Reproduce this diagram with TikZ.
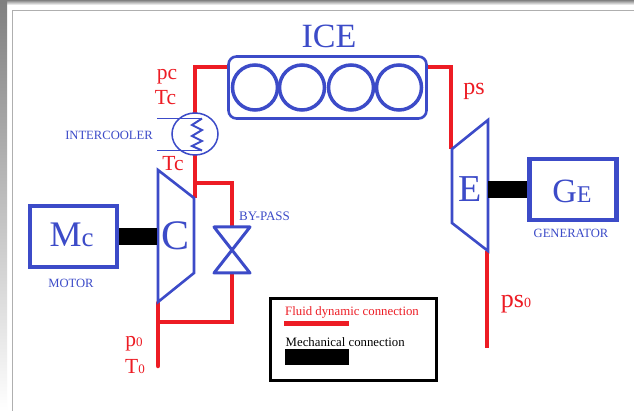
\documentclass[tikz,border=0pt]{standalone}
\usepackage{fontspec}
\setmainfont{Liberation Serif}
\usetikzlibrary{calc,shapes.geometric}
\definecolor{bl}{RGB}{60,75,200}
\definecolor{rd}{RGB}{237,28,36}
\definecolor{shade}{RGB}{236,236,236}
\definecolor{edge}{RGB}{175,175,175}
\tikzset{x=1pt,y=-1pt,
  unit/.style={draw=bl,line width=4.5pt,inner sep=0pt,text=bl,font=\fontsize{35}{35}\selectfont},
  cyl/.style={draw=bl,line width=3.5pt,circle,minimum size=45pt,inner sep=0pt},
  body/.style={draw=bl,line width=2.6pt,line join=miter},
  pipe/.style={draw=rd,line width=4.5pt,line join=miter},
  shaft/.style={draw=black,line width=17pt},
  lab/.style={inner sep=0pt,text=rd,font=\fontsize{21.5}{21.5}\selectfont},
  small/.style={inner sep=0pt,text=bl,font=\fontsize{12.6}{12.6}\selectfont},
  leg/.style={inner sep=0pt,anchor=west,font=\fontsize{12.8}{12.8}\selectfont}}
\newcommand{\sm}[1]{{\fontsize{13}{13}\selectfont #1}}
\begin{document}
\begin{tikzpicture}
\useasboundingbox (0,0) rectangle (634,411);
\fill[white] (0,0) rectangle (634,411);
\fill[shade] (0,0) rectangle (634,5);
\fill[shade] (0,0) rectangle (7,411);
\draw[edge,line width=1pt] (12.5,411) -- (12.5,10.5) -- (634,10.5);
% pipes
\coordinate (iceL) at (228,67);
\coordinate (iceR) at (427,67);
\coordinate (cTop) at (195,198);
\coordinate (cIn) at (158,303);
\coordinate (cEnd) at (158,366);
\coordinate (tee) at (158,322);
\coordinate (eIn) at (451,149);
\coordinate (eOut) at (487,251);
\coordinate (eEnd) at (487,348);
\coordinate (vT) at (232,227);
\coordinate (vB) at (232,273);
\coordinate (teeT) at (195,183);
\draw[pipe] (iceL) -| (cTop);
\draw[pipe] (teeT) -| (vT);
\draw[pipe] (vB) |- (tee);
\draw[pipe,line cap=round] (cIn) -- (cEnd);
\draw[pipe] (iceR) -| (eIn);
\draw[pipe] (eOut) -- (eEnd);
% ICE
\node[draw=bl,line width=2.6pt,rounded corners=8pt,minimum width=198pt,minimum height=62pt,inner sep=0pt] (ice) at (327.5,87.5) {};
\node[cyl] (c1) at (255,87.5) {};
\node[cyl] (c2) at (302,87.5) {};
\node[cyl] (c3) at (351,87.5) {};
\node[cyl] (c4) at (399,87.5) {};
\node[inner sep=0pt,text=bl,font=\fontsize{34}{34}\selectfont] (icel) at (329,36) {ICE};
% intercooler
\node[draw=bl,line width=1.5pt,ellipse,minimum width=46pt,minimum height=42pt,inner sep=0pt,fill=white] (ic) at (195,134) {};
\draw[bl,line width=1.3pt] (157,118.5) -- (202,118.5);
\draw[bl,line width=1.3pt] (157,150.5) -- (202,150.5);
\draw[bl,line width=2pt] (202,118.5) -- (192,125) -- (202,130) -- (192,136) -- (202,141) -- (192,146) -- (202,150.5);
\node[small] (icl) at (109,135) {INTERCOOLER};
% compressor
\draw[body,fill=white] (158,170) -- (194,198) -- (194,273) -- (158,302) -- cycle;
\coordinate (cL) at (157,236.5);
\node[inner sep=0pt,text=bl,font=\fontsize{42}{42}\selectfont] (cl) at (175.5,236) {C};
\node[unit,minimum width=87pt,minimum height=61pt] (mc) at (73.5,236.5) {};
\node[inner sep=0pt,text=bl,font=\fontsize{36}{36}\selectfont] (mcl) at (71.5,235) {M\sm{\fontsize{27}{27}\selectfont c}};
\draw[shaft] (mc.east) -- (cL);
\node[small] (mot) at (71,283) {MOTOR};
% valve
\draw[body,line width=3pt,line join=round] (214,227) -- (250,227) -- (214,273) -- (250,273) -- cycle;
\node[small,font=\fontsize{13}{13}\selectfont] (by) at (264.5,216) {BY-PASS};
% expander
\draw[body,fill=white] (452,149) -- (488,120) -- (488,251) -- (452,223) -- cycle;
\coordinate (eR) at (488,189.5);
\node[inner sep=0pt,text=bl,font=\fontsize{38}{38}\selectfont] (el) at (470,189) {E};
\node[unit,minimum width=87pt,minimum height=61pt] (ge) at (573,189.5) {};
\node[inner sep=0pt,text=bl,font=\fontsize{34}{34}\selectfont] (gel) at (572,191) {G\sm{\fontsize{24}{24}\selectfont E}};
\draw[shaft] (eR) -- (ge.west);
\node[small] (gen) at (571,233) {GENERATOR};
% labels
\node[lab] (pc) at (167,77) {pc};
\node[lab] (tc) at (165.5,98) {Tc};
\node[lab] (tc2) at (173,164) {Tc};
\node[lab,font=\fontsize{24}{24}\selectfont] (ps) at (474,91) {ps};
\node[lab] (p0) at (134,344) {p\sm{0}};
\node[lab] (t0) at (135,367) {T\sm{0}};
\node[lab,font=\fontsize{26}{26}\selectfont] (ps0) at (516,304) {ps\sm{\fontsize{14}{14}\selectfont 0}};
% legend
\node[draw=black,line width=3pt,minimum width=166pt,minimum height=81pt,inner sep=0pt] (legend) at (353.5,339.5) {};
\node[leg,text=rd] (lf) at (285,312) {Fluid dynamic connection};
\node[leg,text=black] (lm) at (285.5,342) {Mechanical connection};
\fill[rd] (284,321) rectangle (349,326);
\fill[black] (285,349) rectangle (349,365);
\end{tikzpicture}
\end{document}
